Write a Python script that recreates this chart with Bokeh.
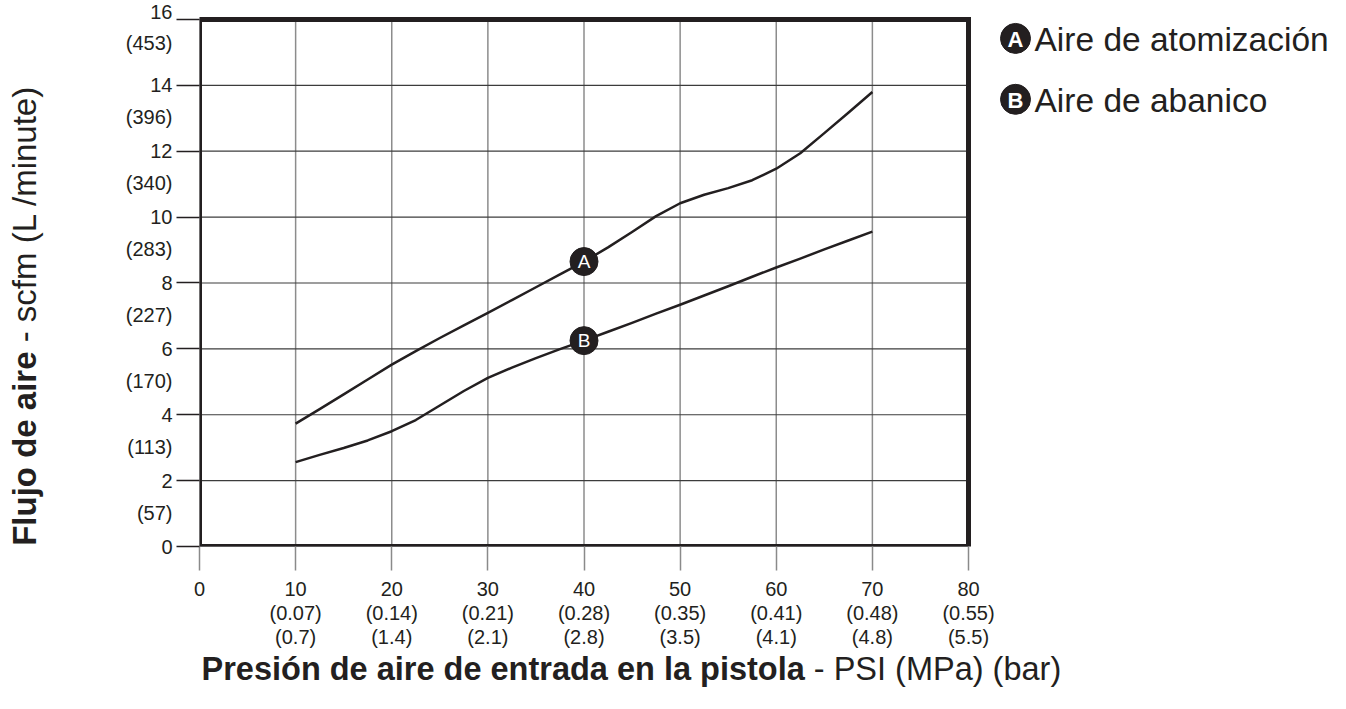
import math
from bokeh.plotting import figure
from bokeh.models import Range1d, FixedTicker
from bokeh.layouts import row, column
from bokeh.embed import file_html
from bokeh.resources import INLINE
from bokeh.core.properties import value

# ---------------- data ----------------
psi = [10, 12.5, 15, 17.5, 20, 22.5, 25, 27.5, 30, 32.5, 35, 37.5, 40,
       42.5, 45, 47.5, 50, 52.5, 55, 57.5, 60, 62.5, 65, 67.5, 70]
aire_atomizacion = [3.73, 4.17, 4.62, 5.07, 5.52, 5.93, 6.33, 6.71, 7.09, 7.48, 7.87, 8.26, 8.65,
                    9.08, 9.55, 10.03, 10.42, 10.68, 10.88, 11.12, 11.47, 11.94, 12.55, 13.17, 13.8]
aire_abanico = [2.56, 2.78, 2.99, 3.22, 3.50, 3.84, 4.28, 4.72, 5.12, 5.43, 5.72, 5.99, 6.25,
                6.52, 6.79, 7.07, 7.34, 7.62, 7.90, 8.19, 8.47, 8.74, 9.02, 9.29, 9.56]
curve_marker_psi = [40, 40]
curve_marker_scfm = [8.65, 6.25]
curve_marker_letters = ["A", "B"]

x_tick_psi = [0, 10, 20, 30, 40, 50, 60, 70, 80]
x_tick_mpa = ["", "0.07", "0.14", "0.21", "0.28", "0.35", "0.41", "0.48", "0.55"]
x_tick_bar = ["", "0.7", "1.4", "2.1", "2.8", "3.5", "4.1", "4.8", "5.5"]
y_tick_scfm = [0, 2, 4, 6, 8, 10, 12, 14, 16]
y_tick_lpm = ["", "57", "113", "170", "227", "283", "340", "396", "453"]

legend_letters = ["A", "B"]
legend_names = ["Aire de atomización", "Aire de abanico"]
x_title_bold = "Presión de aire de entrada en la pistola"
x_title_rest = "- PSI (MPa) (bar)"
y_title_bold = "Flujo de aire"
y_title_rest = "- scfm (L /minute)"

# ---------------- layout (pixels, page coordinates) ----------------
TOTAL_W, TOTAL_H = 1330, 693
YT_W = 60                    # strip holding the y title
MAIN_H = 650                 # height of main chart figure
XT_H = TOTAL_H - MAIN_H      # strip holding the x title
FRAME_L = 199                # page x of 0 psi
FRAME_B = 547                # page y of 0 scfm
PX_PER_PSI = 9.6125
PX_PER_SCFM = 33.0
INK = "#231f20"
FONT = "Liberation Sans"
XT_PX = 32.5
YT_PX = 33.0


def dx(px):
    return (px - FRAME_L) / PX_PER_PSI


def dy(py):
    return (FRAME_B - py) / PX_PER_SCFM


def bare(width, height, x_span, y_span, border_bottom=0):
    f = figure(width=width, height=height,
               x_range=Range1d(0, x_span), y_range=Range1d(0, y_span),
               output_backend="svg", toolbar_location=None,
               x_axis_location=None, y_axis_location=None, min_border=0,
               min_border_bottom=border_bottom)
    f.outline_line_color = None
    f.grid.visible = False
    return f


# ---------------- main chart ----------------
MAIN_W = TOTAL_W - YT_W
p = figure(width=MAIN_W, height=MAIN_H,
           x_range=Range1d(0, dx(TOTAL_W)), y_range=Range1d(0, dy(0)),
           output_backend="svg", toolbar_location=None,
           min_border_left=FRAME_L - YT_W, min_border_right=0, min_border_top=0,
           min_border_bottom=MAIN_H - FRAME_B)
p.outline_line_color = None
p.xgrid.visible = False
p.ygrid.visible = False
p.background_fill_color = "white"
p.border_fill_color = "white"

xa = p.xaxis[0]
xa.ticker = FixedTicker(ticks=x_tick_psi)
xa.major_label_overrides = {
    t: (str(t) if m == "" else f"{t}\n({m})\n({b})")
    for t, m, b in zip(x_tick_psi, x_tick_mpa, x_tick_bar)
}
xa.axis_line_color = None
xa.major_tick_in = 0
xa.major_tick_out = 24
xa.major_tick_line_color = "#8a8a8a"
xa.major_tick_line_width = 1.5
xa.minor_tick_line_color = None
xa.major_label_standoff = 7
xa.major_label_text_font = FONT
xa.major_label_text_font_size = "20px"
xa.major_label_text_color = INK
xa.major_label_text_line_height = 1.1

ya = p.yaxis[0]
ya.ticker = FixedTicker(ticks=y_tick_scfm)
# first line sits on the tick, the L/min value underneath (leading blank line centres it)
ya.major_label_overrides = {
    t: (str(t) if l == "" else (f"{t}\n({l})" if t == y_tick_scfm[-1] else f" \n{t}\n({l})"))
    for t, l in zip(y_tick_scfm, y_tick_lpm)
}
ya.axis_line_color = None
ya.major_tick_in = 0
ya.major_tick_out = 23
ya.major_tick_line_color = INK
ya.major_tick_line_width = 1.3
ya.minor_tick_line_color = None
ya.major_label_standoff = 4
ya.major_label_text_font = FONT
ya.major_label_text_font_size = "20px"
ya.major_label_text_color = INK
ya.major_label_text_line_height = 1.45

# grid lines inside the plot box
x0, x1 = x_tick_psi[0], x_tick_psi[-1]
y0, y1 = y_tick_scfm[0], y_tick_scfm[-1]
p.segment(x0=x_tick_psi, y0=[y0] * len(x_tick_psi), x1=x_tick_psi, y1=[y1] * len(x_tick_psi),
          line_color="#8c8c8c", line_width=1.5)
p.segment(x0=[x0] * len(y_tick_scfm), y0=y_tick_scfm, x1=[x1] * len(y_tick_scfm), y1=y_tick_scfm,
          line_color="#3c3c3c", line_width=1.2)

# heavy plot box
p.quad(left=[x0], right=[x1], bottom=[y0], top=[y1], fill_color=None,
       line_color=INK, line_width=5, line_join="miter")

# curves
p.line(psi, aire_atomizacion, line_color=INK, line_width=2.5, line_join="round")
p.line(psi, aire_abanico, line_color=INK, line_width=2.5, line_join="round")

# curve markers
p.scatter(curve_marker_psi, curve_marker_scfm, size=28, marker="circle",
          fill_color=INK, line_color=INK)
p.text(curve_marker_psi, curve_marker_scfm, text=curve_marker_letters,
       text_align="center", text_baseline="middle", text_color="white",
       text_font=value(FONT), text_font_size="19px")

# legend (top right)
leg_cx = 1015
leg_cy = [38, 99]
p.scatter([dx(leg_cx)] * 2, [dy(c) for c in leg_cy], size=30, marker="circle",
          fill_color=INK, line_color=INK)
p.text([dx(leg_cx)] * 2, [dy(c + 1) for c in leg_cy], text=legend_letters,
       text_align="center", text_baseline="middle", text_color="white",
       text_font=value(FONT), text_font_style="bold", text_font_size="22px")
p.text([dx(1034)] * 2, [dy(c + 1) for c in leg_cy], text=legend_names,
       text_align="left", text_baseline="middle", text_color=INK,
       text_font=value(FONT), text_font_size="33.5px")

# ---------------- y title strip (same frame height as the chart) ----------------
yt = bare(YT_W, MAIN_H, YT_W, FRAME_B, border_bottom=MAIN_H - FRAME_B)
yt_cx = 24
yt_bottom = 546                                   # page y where the title starts (reads upward)
yt_junction = yt_bottom - 5.891 * YT_PX           # end of the bold part
yt.text([yt_cx], [FRAME_B - yt_junction], text=[y_title_bold], angle=math.pi / 2,
        text_align="right", text_baseline="middle", text_color=INK,
        text_font=value(FONT), text_font_style="bold", text_font_size=f"{YT_PX}px")
yt.text([yt_cx], [FRAME_B - yt_junction + 0.278 * YT_PX], text=[y_title_rest], angle=math.pi / 2,
        text_align="left", text_baseline="middle", text_color=INK,
        text_font=value(FONT), text_font_size=f"{YT_PX}px")

# ---------------- x title strip ----------------
xt = bare(TOTAL_W, XT_H, TOTAL_W, XT_H)
xt_cy = TOTAL_H - 668
xt_junction = 201 + 18.563 * XT_PX                # end of the bold part
xt.text([xt_junction], [xt_cy], text=[x_title_bold],
        text_align="right", text_baseline="middle", text_color=INK,
        text_font=value(FONT), text_font_style="bold", text_font_size=f"{XT_PX}px")
xt.text([xt_junction + 0.278 * XT_PX], [xt_cy], text=[x_title_rest],
        text_align="left", text_baseline="middle", text_color=INK,
        text_font=value(FONT), text_font_size=f"{XT_PX}px")

layout = column(row(yt, p, spacing=0), xt, spacing=0)
open("out.html", "w").write(file_html(layout, INLINE))
